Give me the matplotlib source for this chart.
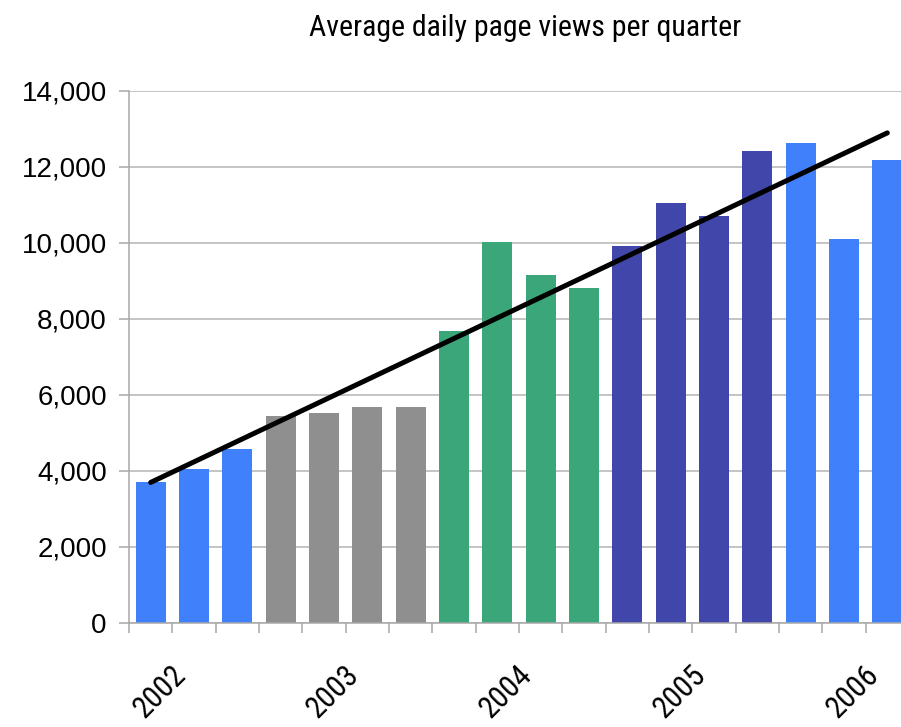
import numpy as np
import matplotlib
matplotlib.use("Agg")
import matplotlib.pyplot as plt
from matplotlib import font_manager as fm
from matplotlib.ticker import FuncFormatter
from matplotlib.transforms import ScaledTranslation

# Data (quarters from 2002 Q2 to 2006 Q3)
quarters = ["2002Q2", "2002Q3", "2002Q4",
            "2003Q1", "2003Q2", "2003Q3", "2003Q4",
            "2004Q1", "2004Q2", "2004Q3", "2004Q4",
            "2005Q1", "2005Q2", "2005Q3", "2005Q4",
            "2006Q1", "2006Q2", "2006Q3"]
views = [3700, 4060, 4570,
         5440, 5530, 5680, 5680,
         7680, 10030, 9160, 8820,
         9930, 11050, 10710, 12430,
         12620, 10100, 12180]
year_of = [2002, 2002, 2002,
           2003, 2003, 2003, 2003,
           2004, 2004, 2004, 2004,
           2005, 2005, 2005, 2005,
           2006, 2006, 2006]
year_labels = ["2002", "2003", "2004", "2005", "2006"]
year_label_pos = [1, 5, 9, 13, 17]
year_colors = {2002: "#4080FA", 2003: "#8F8F8F", 2004: "#3BA67A",
               2005: "#4147AA", 2006: "#4080FA"}

title = "Average daily page views per quarter"


def find_narrow():
    prefs = ["Liberation Sans Narrow", "Arial Narrow", "Roboto Condensed",
             "DejaVu Sans Condensed", "Open Sans Condensed",
             "Noto Sans Condensed"]
    for name in prefs:
        try:
            path = fm.findfont(fm.FontProperties(family=name),
                               fallback_to_default=False)
            return fm.FontProperties(fname=path), True
        except Exception:
            pass
    for f in fm.fontManager.ttflist:
        st = str(f.stretch).lower()
        if ("condensed" in st or "narrow" in f.name.lower()
                or "condensed" in f.name.lower()) and f.style == "normal" \
                and f.weight in (400, "normal", "regular"):
            return fm.FontProperties(fname=f.fname), True
    return fm.FontProperties(family=["Liberation Sans", "DejaVu Sans"]), False


narrow_fp, is_narrow = find_narrow()

fig = plt.figure(figsize=(9.01, 7.27), dpi=100)
ax = fig.add_axes([129 / 901, 104 / 727, 780 / 901, 532 / 727])

x = np.arange(len(views))
colors = [year_colors[y] for y in year_of]
ax.bar(x, views, width=0.69, color=colors, zorder=2)

# linear trend line
coef = np.polyfit(x, views, 1)
ax.plot([x[0], x[-1]], np.polyval(coef, [x[0], x[-1]]), color="black",
        lw=3.6, solid_capstyle="round", zorder=3)

ax.set_xlim(-0.5, len(views) - 0.5)
ax.set_ylim(0, 14000)
ax.set_yticks(np.arange(0, 14001, 2000))
ax.yaxis.set_major_formatter(FuncFormatter(lambda v, p: f"{int(v):,}"))
ax.grid(axis="y", color="#b4b4b4", lw=1.1, zorder=0)
ax.set_axisbelow(True)

for s in ["top", "right"]:
    ax.spines[s].set_visible(False)
for s in ["left", "bottom"]:
    ax.spines[s].set_color("#a8a8a8")
    ax.spines[s].set_linewidth(1.1)

ax.tick_params(axis="y", length=7, width=1.1, color="#a8a8a8", pad=9,
               labelsize=20)
for lab in ax.get_yticklabels():
    lab.set_family(["Liberation Sans", "DejaVu Sans"])

# x tick marks at category boundaries
ax.set_xticks(np.arange(-0.5, len(views), 1.0))
ax.set_xticklabels([])
ax.tick_params(axis="x", which="major", length=7, width=1.1, color="#a8a8a8")

# year labels
year_size = 22 if is_narrow else 20
ax.set_xticks(year_label_pos, minor=True)
ax.set_xticklabels(year_labels, minor=True)
ax.tick_params(axis="x", which="minor", length=0, pad=34)
shift = ScaledTranslation(-13 / 100, 0, fig.dpi_scale_trans)
for lab in ax.get_xticklabels(minor=True):
    lab.set_fontproperties(narrow_fp)
    lab.set_fontsize(year_size)
    lab.set_rotation(45)
    lab.set_ha("right")
    lab.set_va("center")
    lab.set_rotation_mode("anchor")
    lab.set_transform(lab.get_transform() + shift)

t = fig.text(0.583, 0.962, title, ha="center", va="center",
             fontproperties=narrow_fp)
t.set_fontsize(21.5 if is_narrow else 18.7)

fig.savefig("out.png", dpi=100)
